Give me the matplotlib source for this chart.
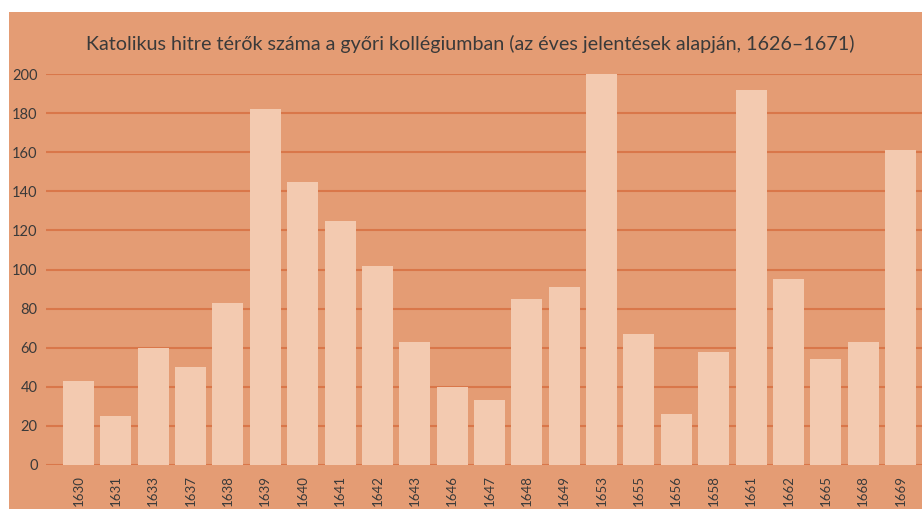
import matplotlib.pyplot as plt
from matplotlib.patches import Rectangle

years = ['1630', '1631', '1633', '1637', '1638', '1639', '1640', '1641', '1642', '1643', '1646',
         '1647', '1648', '1649', '1653', '1655', '1656', '1658', '1661', '1662', '1665', '1668', '1669']
counts = [43, 25, 60, 50, 83, 182, 145, 125, 102, 63, 40,
          33, 85, 91, 200, 67, 26, 58, 192, 95, 54, 63, 161]
yticks = [0, 20, 40, 60, 80, 100, 120, 140, 160, 180, 200]

bg = '#E49C74'
bar_color = '#F3CAB0'
grid_color = '#D9774A'
text_color = '#3a3a3a'

plt.rcParams['font.family'] = ['Lato', 'DejaVu Sans']

W, H = 922, 509
fig = plt.figure(figsize=(W / 100, H / 100), dpi=100, facecolor='white')
# orange panel behind everything
fig.patches.append(Rectangle((9 / W, 0), 1 - 9 / W, 1 - 12 / H, transform=fig.transFigure,
                             facecolor=bg, edgecolor='none', zorder=-5))

ax = fig.add_axes([46 / W, (H - 465) / H, 1 - 46 / W, (465 - 74) / H])
ax.set_facecolor('none')
ax.set_zorder(2)

x = list(range(len(years)))
ax.bar(x, counts, width=0.83, color=bar_color, zorder=3, clip_on=False)

for v in yticks:
    ax.axhline(v, color=grid_color, lw=1.5, zorder=1)

ax.set_ylim(0, 200)
ax.set_xlim(-0.87, len(years) - 1 + 0.575)
ax.set_yticks(yticks)
ax.set_yticklabels([str(v) for v in yticks], fontsize=10.5, color=text_color)
ax.set_xticks(x)
ax.set_xticklabels(years, rotation=90, fontsize=9.5, color=text_color)
ax.tick_params(axis='both', length=0)
ax.tick_params(axis='y', pad=6)
ax.tick_params(axis='x', pad=7)
for s in ax.spines.values():
    s.set_visible(False)

fig.text(0.51, 1 - 44 / H, 'Katolikus hitre térők száma a győri kollégiumban (az éves jelentések alapján, 1626–1671)',
         ha='center', va='center', fontsize=14.2, color=text_color)

fig.savefig('out.png', dpi=100, facecolor='white')
